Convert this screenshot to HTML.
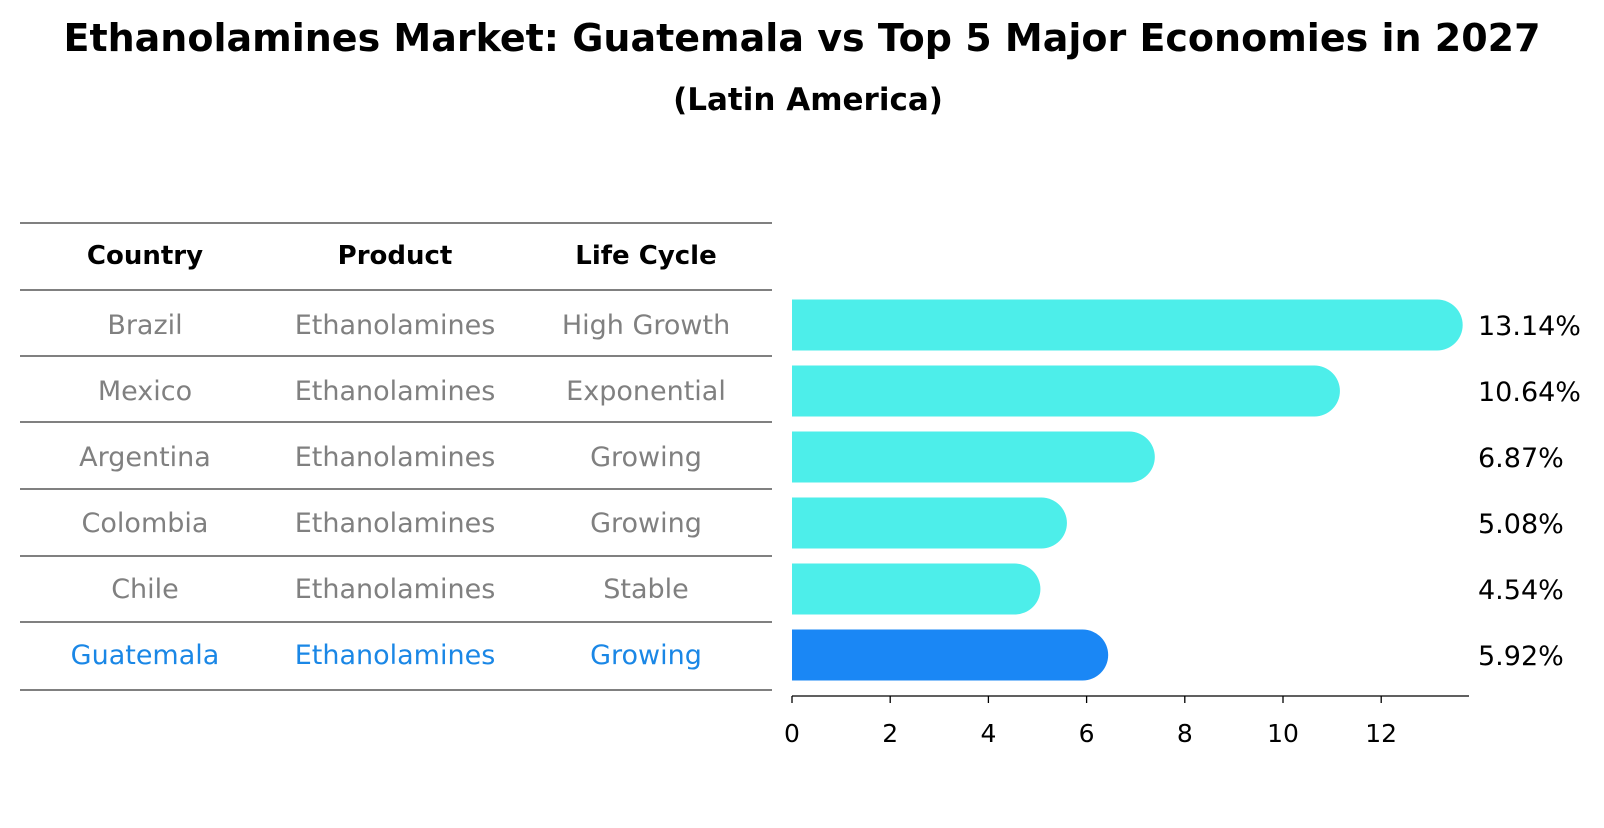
<!DOCTYPE html>
<html><head><meta charset="utf-8"><style>
body{margin:0;background:#fff;font-family:"Liberation Sans","DejaVu Sans",sans-serif}
</style></head><body>
<svg width="1604" height="823" viewBox="0 0 1604 823" font-family="'DejaVu Sans','Liberation Sans',sans-serif">
<text x="802" y="51" text-anchor="middle" font-size="38" font-weight="bold">Ethanolamines Market: Guatemala vs Top 5 Major Economies in 2027</text>
<text x="808" y="110" text-anchor="middle" font-size="31" font-weight="bold">(Latin America)</text>
<g id="table"></g>
<g id="bars"></g>
</svg>
<script>
const countries=["Brazil","Mexico","Argentina","Colombia","Chile","Guatemala"];
const products=["Ethanolamines","Ethanolamines","Ethanolamines","Ethanolamines","Ethanolamines","Ethanolamines"];
const lifeCycles=["High Growth","Exponential","Growing","Growing","Stable","Growing"];
const values=[13.14,10.64,6.87,5.08,4.54,5.92];
const ticks=[0,2,4,6,8,10,12];
const NS="http://www.w3.org/2000/svg";
function mk(t,a,p){const e=document.createElementNS(NS,t);for(const k in a)e.setAttribute(k,a[k]);p.appendChild(e);return e;}
const X=v=>792+v*49.1;
const rowY=i=>325+i*66;
const tbl=document.getElementById('table');
const lines=[223,290,356,422,489,556,622,690];
lines.forEach((y,i)=>{const l=mk('line',{x1:20,x2:772,y1:y,y2:y,stroke:'#000','stroke-width':1},tbl);

});
const cx=[145,395,646];
["Country","Product","Life Cycle"].forEach((h,j)=>{const t=mk('text',{x:cx[j],y:264,'text-anchor':'middle','font-size':26,'font-weight':'bold'},tbl);t.textContent=h;

});
countries.forEach((c,i)=>{const col=i===5?'#1a87e6':'#808080';
[c,products[i],lifeCycles[i]].forEach((s,j)=>{const t=mk('text',{x:cx[j],y:rowY(i)+9,'text-anchor':'middle','font-size':27,fill:col},tbl);t.textContent=s;

});});
const g=document.getElementById('bars');
const h=51,r=25.5;
values.forEach((v,i)=>{const y=rowY(i);const col=i===5?'#1a87f5':'#4deeea';
const p=mk('path',{d:`M${X(0)},${y-h/2} H${X(v)} A${r},${r} 0 0 1 ${X(v)},${y+h/2} H${X(0)} Z`,fill:col},g);


const t=mk('text',{x:1478,y:y+10,'font-size':27},g);t.textContent=v.toFixed(2)+'%';

});
const ax=mk('line',{x1:X(0),x2:1469,y1:696,y2:696,stroke:'#000','stroke-width':1.3},g);


ticks.forEach(v=>{const l=mk('line',{x1:X(v),x2:X(v),y1:696,y2:703,stroke:'#000','stroke-width':1.3},g);


const t=mk('text',{x:X(v),y:742,'text-anchor':'middle','font-size':25},g);t.textContent=v;

});
</script>
</body></html>
